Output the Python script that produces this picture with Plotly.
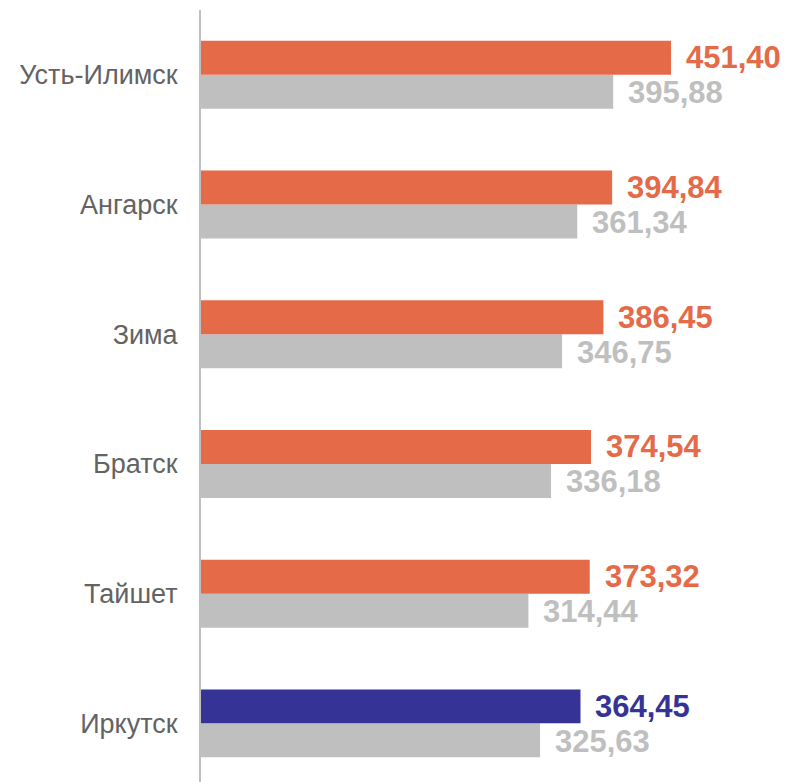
import plotly.graph_objects as go

# ── данные ──────────────────────────────────────────────────────────────
CITIES = ["Иркутск", "Тайшет", "Братск", "Зима", "Ангарск", "Усть-Илимск"]
CURRENT = [364.45, 373.32, 374.54, 386.45, 394.84, 451.40]
PREVIOUS = [325.63, 314.44, 336.18, 346.75, 361.34, 395.88]
HIGHLIGHT = "Иркутск"

# ── цвета ───────────────────────────────────────────────────────────────
ORANGE = "#E46A48"
NAVY = "#353395"
GRAY = "#BFBFBF"
LABEL = "#636363"
FONT = "Arial, Liberation Sans, sans-serif"


def fmt(v):
    return f"{v:.2f}".replace(".", ",")


cur_colors = [NAVY if c == HIGHLIGHT else ORANGE for c in CITIES]

fig = go.Figure()
fig.add_trace(go.Bar(
    y=CITIES, x=PREVIOUS, orientation="h",
    marker=dict(color=GRAY, line=dict(width=0)),
    hoverinfo="skip",
))
fig.add_trace(go.Bar(
    y=CITIES, x=CURRENT, orientation="h",
    marker=dict(color=cur_colors, line=dict(width=0)),
    hoverinfo="skip",
))

# подписи значений справа от столбцов
annotations = []
for i, city in enumerate(CITIES):
    annotations.append(dict(
        x=CURRENT[i], y=i, yshift=17, xshift=13,
        text=f"<b>{fmt(CURRENT[i])}</b>", showarrow=False,
        xanchor="left", yanchor="middle",
        font=dict(family=FONT, size=31, color=cur_colors[i]),
    ))
    annotations.append(dict(
        x=PREVIOUS[i], y=i, yshift=-18, xshift=13,
        text=f"<b>{fmt(PREVIOUS[i])}</b>", showarrow=False,
        xanchor="left", yanchor="middle",
        font=dict(family=FONT, size=31, color=GRAY),
    ))

fig.update_layout(
    width=789, height=782,
    barmode="group", bargap=0.476, bargroupgap=0,
    showlegend=False,
    paper_bgcolor="white", plot_bgcolor="white",
    margin=dict(l=201, r=0, t=10, b=0, autoexpand=False),
    xaxis=dict(
        range=[0, 564.7], visible=False, showgrid=False, zeroline=False,
        automargin=False,
    ),
    yaxis=dict(
        type="category", categoryarray=CITIES, categoryorder="array",
        range=[-0.452, 5.5], automargin=False,
        showline=True, linecolor=GRAY, linewidth=2,
        showgrid=False, zeroline=False,
        ticks="outside", ticklen=16, tickcolor="rgba(0,0,0,0)",
        tickfont=dict(family=FONT, size=27, color=LABEL),
    ),
    annotations=annotations,
)

# убираем отступ body по умолчанию (8px), чтобы график лёг ровно в окно
fig.write_html(
    "out.html",
    config={"displayModeBar": False},
    post_script="document.body.style.margin='0';document.body.style.overflow='hidden';",
)
